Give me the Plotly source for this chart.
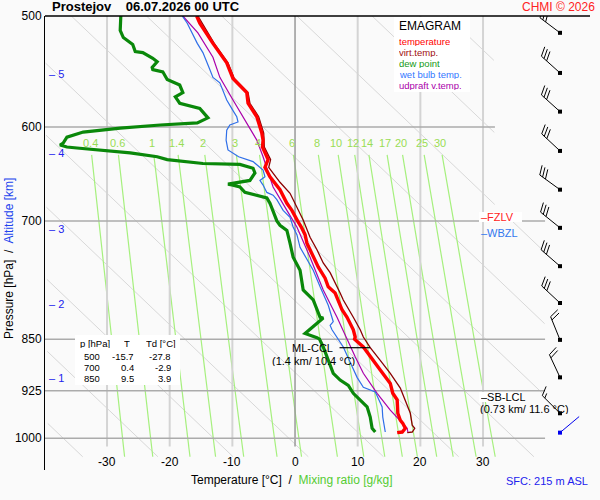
import numpy as np
import plotly.graph_objects as go

# ---- sounding: pressure [hPa] / temperature [°C] ----
temp_p = [500, 506, 523, 540, 554, 567, 577, 590, 606, 613, 620, 630, 633, 641, 651,
          665, 680, 688, 697, 700, 707, 716, 726, 743, 755, 769, 780, 788, 810, 820, 837,
          847, 850, 861, 875, 894, 914, 929, 939, 960, 971, 976, 984, 990, 991]
temp_t = [-15.7, -15.2, -13.1, -10.9, -9.9, -7.7, -7.5, -6.1, -5.3, -5.1, -5.2, -4.5, -4.3, -4.8, -4.0,
          -2.4, -1.3, -0.5, 0.1, 0.4, 1.0, 1.6, 1.9, 2.9, 3.7, 4.8, 5.3, 6.4, 7.5, 8.3, 9.3,
          9.6, 9.5, 10.9, 12.0, 13.6, 15.2, 15.6, 16.3, 16.4, 16.8, 17.2, 17.6, 17.1, 16.3]

virt_p = [500, 523, 540, 554, 567, 577, 590, 606, 620, 633, 641, 657, 669, 684, 699, 719, 734,
          750, 762, 788, 797, 820, 837, 847, 862, 880, 899, 921, 939, 960, 979, 984, 990, 991]
virt_t = [-15.5, -12.9, -10.7, -9.7, -7.5, -7.2, -5.8, -5.0, -4.9, -3.9, -4.2, -2.4, -0.8, 0.3, 1.3, 2.4, 3.5,
          4.5, 5.6, 7.2, 7.7, 9.3, 10.4, 10.9, 12.0, 13.6, 15.2, 16.8, 17.6, 18.4, 18.7, 19.1, 18.7, 17.9]

dew_p = [500, 512, 518, 524, 530, 531, 536, 539, 544, 546,
         548, 555, 560, 567, 571, 577, 582, 591, 596, 598,
         601, 605, 610, 616, 618, 620, 621, 623, 626, 630,
         633, 637, 638, 642, 647, 655, 658, 659, 660, 662,
         668, 672, 674, 680, 696, 700, 705, 711, 726, 743,
         759, 784, 797, 820, 821, 828, 840, 842, 848, 850,
         861, 880, 899, 909, 917, 929, 939, 950, 966, 984, 990]
dew_t = [-27.8, -27.9, -27.4, -25.9, -25.5, -24.3, -22.7, -22.0, -22.8, -22.7,
         -21.1, -20.4, -18.4, -17.9, -19.1, -18.4, -15.2, -13.9, -15.6, -21.5,
         -27.9, -33.8, -36.4, -37.0, -37.5, -36.4, -34.8, -31.1, -26.3, -22.0,
         -20.4, -14.7, -8.8, -6.7, -6.4, -7.2, -9.9, -10.7, -9.9, -8.8,
         -8.0, -5.6, -4.5, -4.0, -3.2, -2.9, -2.4, -1.3, -0.8, -0.3,
         0.8, 1.3, 2.9, 4.0, 4.5, 3.5, 1.9, 1.6, 3.5, 3.9,
         4.5, 5.3, 6.1, 7.2, 8.5, 9.3, 10.4, 11.5, 12.0, 12.3, 12.8]

wet_p = [500, 506, 523, 531, 546, 553, 558, 574, 584, 590, 595, 598, 603, 613, 623, 630, 635, 644,
         651, 655, 660, 668, 671, 676, 688, 696, 707, 716, 731, 749, 759, 780, 804, 826, 831, 837,
         847, 861, 883, 905, 920, 927, 935, 950, 966, 990]
wet_t = [-18.0, -17.2, -15.6, -14.7, -13.6, -13.1, -12.0, -10.9, -9.9, -9.3, -9.1, -10.4, -10.9, -11.0,
         -10.7, -9.0, -6.7, -5.1, -4.8, -5.6, -5.1, -4.5, -3.5, -2.9, -1.9, -0.8, -0.3, 0.3, 0.8, 2.1,
         2.9, 4.0, 5.3, 6.1, 5.6, 5.9, 6.7, 7.7, 8.8, 9.9, 10.9, 12.8, 13.2, 13.9, 14.0, 14.4]

up_p = [500, 514, 535, 553, 574, 593, 613, 630, 662, 688, 707, 743, 784, 820, 861, 875, 899, 929, 955, 984, 990]
up_t = [-17.9, -15.5, -13.1, -12.0, -9.9, -8.0, -6.1, -5.1, -3.5, -1.3, 0.3, 2.4, 4.5, 6.7, 8.8, 9.6, 10.9,
        13.1, 15.2, 17.9, 18.0]

# wind barbs (every 0.5 km), direction in degrees, speed in kt
barb_p = [514, 549, 585, 624, 665, 708, 754, 801, 851, 905, 960]
barb_dir = [307, 312, 312, 313, 306, 309, 311, 313, 338, 335, 315]
barb_kt = [30, 30, 30, 30, 30, 30, 30, 30, 20, 20, 15]
sfc_p, sfc_dir = 991, 50

alt_km = [1, 2, 3, 4, 5]
alt_p = [906, 802, 709, 626, 550]

mix_ratios = [0.4, 0.6, 1, 1.4, 2, 3, 4, 6, 8, 10, 12, 14, 17, 20, 25, 30]
isobars = [600, 700, 850, 925, 1000]
isotherms = [-30, -20, -10, 0, 10, 20, 30]
adiabats_t500 = [-107.7, -95.7, -83.7, -71.7, -59.7, -47.7, -35.7, -23.7, -11.7, 0.3, 12.3, 24.3, 36.3]

table_rows = [("500", "-15.7", "-27.8"), ("700", "0.4", "-2.9"), ("850", "9.5", "3.9")]
fzlv_p, wbzl_p = 695, 714
ccl_p, ccl_span = 862, [7.1, 12.0]
lcl_p = 934

# ---- geometry ----
W, H = 600, 500
ML, MR, MT, MB = 45, 10, 16, 30
PW, PH = W - ML - MR, H - MT - MB
X0, X1 = -39.9, 47.07
P_TOP, P_BOT = 500, 1053.7
ppx = PW / (X1 - X0)
ppy = PH / (np.log10(P_BOT) - np.log10(P_TOP))
FONT = "Liberation Sans, Arial, sans-serif"


def px(x):
    return (x - ML) / PW


def py(y):
    return 1 - (y - MT) / PH


fig = go.Figure()

# diagonal guide lines
gx, gy = [], []
pp = np.exp(np.linspace(np.log(500), np.log(1031), 160))
for t5 in adiabats_t500:
    t = t5 + 102.0 * np.log(pp / 500)
    tmax = np.where(pp < 700, 31.9, 39.9)
    ok = (t >= X0) & (t <= tmax)
    prev = False
    for ti, pi, o in zip(t, pp, ok):
        if o:
            gx.append(ti); gy.append(pi)
        elif prev:
            gx.append(None); gy.append(None)
        prev = o
    gx.append(None); gy.append(None)
fig.add_trace(go.Scatter(x=gx, y=gy, mode="lines", line=dict(color="#d8d8d8", width=1),
                         hoverinfo="skip", showlegend=False))


# mixing ratio lines
def dewpoint(w, p):
    e = w * p / (622.0 + w)
    a = np.log(e / 6.112)
    return 243.5 * a / (17.67 - a)


mx, my = [], []
pm = np.linspace(628, 1031, 40)
for w in mix_ratios:
    mx += list(dewpoint(w, pm)) + [None]
    my += list(pm) + [None]
fig.add_trace(go.Scatter(x=mx, y=my, mode="lines", line=dict(color="#a6f07e", width=1.2),
                         hoverinfo="skip", showlegend=False))

# isotherms
for t in isotherms:
    fig.add_trace(go.Scatter(x=[t, t], y=[500, 1014], mode="lines",
                             line=dict(color="#999999" if t == 0 else "#d4d4d4", width=1.5 if t == 0 else 2),
                             hoverinfo="skip", showlegend=False))
# isobars
for p in isobars:
    fig.add_trace(go.Scatter(x=[X0, 31.9 if p == 600 else 39.9], y=[p, p], mode="lines",
                             line=dict(color="#ababab", width=1.5), hoverinfo="skip", showlegend=False))

# profiles
fig.add_trace(go.Scatter(x=virt_t, y=virt_p, mode="lines", line=dict(color="#8b0000", width=1.3),
                         name="virt.temp.", showlegend=False))
fig.add_trace(go.Scatter(x=up_t, y=up_p, mode="lines", line=dict(color="#aa00aa", width=1.2),
                         name="udpraft v.temp.", showlegend=False))
fig.add_trace(go.Scatter(x=wet_t, y=wet_p, mode="lines", line=dict(color="#2f6fe8", width=1.2),
                         name="wet bulb temp.", showlegend=False))
fig.add_trace(go.Scatter(x=dew_t, y=dew_p, mode="lines", line=dict(color="#0a880a", width=3.2),
                         name="dew point", showlegend=False))
fig.add_trace(go.Scatter(x=temp_t, y=temp_p, mode="lines", line=dict(color="#ff0000", width=3.4),
                         name="temperature", showlegend=False))

# CCL level line
fig.add_trace(go.Scatter(x=ccl_span, y=[ccl_p, ccl_p], mode="lines", line=dict(color="black", width=1.2),
                         hoverinfo="skip", showlegend=False))

# wind barbs
BX = X0 + (560 - ML) / ppx


def to_data(p0, e, n):
    return BX + e / ppx, 10 ** (np.log10(p0) - n / ppy)


bx, by = [], []
for p0, d, kt in zip(barb_p, barb_dir, barb_kt):
    ue, un = np.sin(np.radians(d)), np.cos(np.radians(d))
    pe, pn = un, -ue
    L, F, gap = 25, 10, 3.5
    segs = [((0, 0), (L * ue, L * un))]
    pos = L
    for i in range(kt // 10):
        b = (pos * ue, pos * un)
        segs.append((b, (b[0] + F * (0.92 * pe + 0.38 * ue), b[1] + F * (0.92 * pn + 0.38 * un))))
        pos -= gap
    if kt % 10 >= 5:
        b = (pos * ue, pos * un)
        segs.append((b, (b[0] + F / 2 * (0.92 * pe + 0.38 * ue), b[1] + F / 2 * (0.92 * pn + 0.38 * un))))
    for a, b in segs:
        for e, n in (a, b):
            xx, yy = to_data(p0, e, n)
            bx.append(xx); by.append(yy)
        bx.append(None); by.append(None)
fig.add_trace(go.Scatter(x=bx, y=by, mode="lines", line=dict(color="black", width=1),
                         hoverinfo="skip", showlegend=False))
fig.add_trace(go.Scatter(x=[BX] * len(barb_p), y=barb_p, mode="markers",
                         marker=dict(symbol="square", size=4, color="black"), hoverinfo="skip", showlegend=False))
se, sn = np.sin(np.radians(sfc_dir)), np.cos(np.radians(sfc_dir))
sx, sy = zip(to_data(sfc_p, 0, 0), to_data(sfc_p, 25 * se, 25 * sn))
fig.add_trace(go.Scatter(x=list(sx), y=list(sy), mode="lines", line=dict(color="#0000ee", width=1),
                         hoverinfo="skip", showlegend=False))
fig.add_trace(go.Scatter(x=[BX], y=[sfc_p], mode="markers",
                         marker=dict(symbol="square", size=4, color="#0000ee"), hoverinfo="skip", showlegend=False))

ann = []


def text(x, y, s, size=11, color="black", xanchor="left", xref="paper", yref="paper", **kw):
    ann.append(dict(x=x, y=y, text=s, xref=xref, yref=yref, showarrow=False, xanchor=xanchor,
                    yanchor="middle", font=dict(family=FONT, size=size, color=color), **kw))


# x tick labels
for t in isotherms:
    text(t, py(462), str(t), size=12, xanchor="center", xref="x")
# mixing ratio labels
for w in mix_ratios:
    text(float(dewpoint(w, 616)), py(143), f"{w:g}", size=11, color="#99dd55", xanchor="center", xref="x")
# altitude ticks
for k, p in zip(alt_km, alt_p):
    text(px(47), np.log10(p), f"– {k}", size=11, color="#2222ee", yref="y")

text(px(50), py(7), "<b>Prostejov    06.07.2026 00 UTC</b>", size=13)
text(px(597), py(7), "CHMI © 2026", size=12, color="#ff2222", xanchor="right")
text(px(292), py(480), "Temperature [°C]  /  <span style='color:#55cc33'>Mixing ratio [g/kg]</span>",
     size=12, xanchor="center")
text(px(590), py(481), "SFC: 215 m ASL", size=11, color="#2222ee", xanchor="right")
text(px(9), py(259), "Pressure [hPa]  /  <span style='color:#2244ee'>Altitude [km]</span>",
     size=12, xanchor="center", textangle=-90)

# legend box text
text(px(397), py(26), "EMAGRAM", size=12)
for i, (s, c) in enumerate([("temperature", "#ff0000"), ("virt.temp.", "#a01010"), ("dew point", "#159a15"),
                            ("wet bulb temp.", "#3377ff"), ("udpraft v.temp.", "#aa00aa")]):
    text(px(397), py(41 + 11 * i), s, size=9.5, color=c, height=10)

# data table
text(px(78), py(343), "p [hPa]", size=9.5, height=10)
text(px(127), py(343), "T", size=9.5, xanchor="center", height=10)
text(px(144), py(343), "Td [°C]", size=9.5, height=10)
for i, (p, t, td) in enumerate(table_rows):
    yy = py(356 + 11 * i)
    text(px(102), yy, p, size=9.5, xanchor="right", height=10)
    text(px(136), yy, t, size=9.5, xanchor="right", height=10)
    text(px(173), yy, td, size=9.5, xanchor="right", height=10)

# levels
text(px(479), np.log10(fzlv_p), "–FZLV", size=11, color="#ff2222", yref="y")
text(px(479), np.log10(wbzl_p), "–WBZL", size=11, color="#3377ee", yref="y")
text(px(312), np.log10(ccl_p), "ML-CCL", size=11, xanchor="center", yref="y", height=11)
text(px(313), py(360), "(1.4 km/ 10.4 °C)", size=11, xanchor="center", height=11)
text(px(479), np.log10(lcl_p), "–SB-LCL", size=11, yref="y", height=11)
text(px(478), py(408), "(0.73 km/ 11.6 °C)", size=11, height=11)

shapes = [
    dict(type="line", xref="paper", yref="paper", x0=0, x1=1, y0=1, y1=1, line=dict(color="black", width=1.5)),
    dict(type="rect", xref="paper", yref="paper", x0=px(394), x1=px(470), y0=py(92), y1=py(17),
         fillcolor="white", line=dict(width=0), layer="above"),
    dict(type="rect", xref="paper", yref="paper", x0=px(75), x1=px(180), y0=py(385), y1=py(335),
         fillcolor="white", line=dict(width=0), layer="above"),
    dict(type="rect", xref="paper", yref="paper", x0=px(479), x1=px(522), y0=py(222), y1=py(212),
         fillcolor="white", line=dict(width=0), layer="above"),
    dict(type="rect", xref="paper", yref="paper", x0=px(479), x1=px(522), y0=py(402), y1=py(392),
         fillcolor="white", line=dict(width=0), layer="above"),
]

fig.update_layout(
    width=W, height=H, autosize=False,
    margin=dict(l=ML, r=MR, t=MT, b=MB),
    paper_bgcolor="#fafafa", plot_bgcolor="#fafafa",
    font=dict(family=FONT, size=12, color="black"),
    showlegend=False,
    annotations=ann,
    shapes=shapes,
    xaxis=dict(range=[X0, X1], showgrid=False, zeroline=False, showticklabels=False, ticks=""),
    yaxis=dict(type="log", range=[np.log10(P_BOT), np.log10(P_TOP)], showgrid=False, zeroline=False,
               tickvals=[500] + isobars, ticktext=[str(v) for v in [500] + isobars],
               ticks="", showline=True, linecolor="black", linewidth=1,
               tickfont=dict(family=FONT, size=12, color="black")),
)

fig.write_html("out.html", config={"displayModeBar": False},
               post_script="document.body.style.margin='0';")
